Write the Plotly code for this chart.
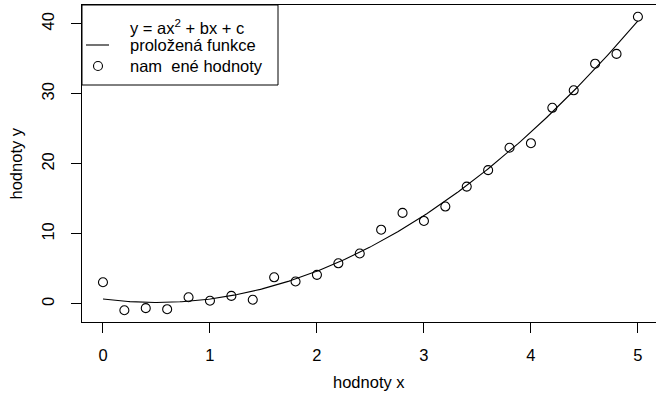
import numpy as np
import plotly.graph_objects as go

# data
x_vals = [0.0, 0.2, 0.4, 0.6, 0.8, 1.0, 1.2, 1.4, 1.6, 1.8, 2.0, 2.2, 2.4,
          2.6, 2.8, 3.0, 3.2, 3.4, 3.6, 3.8, 4.0, 4.2, 4.4, 4.6, 4.8, 5.0]
y_vals = [3.1, -0.9, -0.6, -0.75, 0.95, 0.45, 1.15, 0.6, 3.8, 3.2, 4.15, 5.8, 7.2,
          10.6, 13.0, 11.85, 13.9, 16.75, 19.1, 22.3, 22.95, 28.0, 30.5, 34.3, 35.7, 41.0]
x_ticks = [0, 1, 2, 3, 4, 5]
y_ticks = [0, 10, 20, 30, 40]
legend_labels = ["y = ax<sup>2</sup> + bx + c", "proložená funkce", "nam\u00a0\u00a0ené hodnoty"]
x_title = "hodnoty x"
y_title = "hodnoty y"

FONT = "Liberation Sans, Arial, Helvetica, sans-serif"
FS = 16.5

coef = np.polyfit(x_vals, y_vals, 2)
xc = np.linspace(min(x_vals), max(x_vals), 300)
yc = np.polyval(coef, xc)

fig = go.Figure()
fig.add_trace(go.Scatter(x=xc, y=yc, mode="lines",
                         line=dict(color="black", width=1.1), showlegend=False,
                         hoverinfo="skip"))
fig.add_trace(go.Scatter(x=x_vals, y=y_vals, mode="markers",
                         marker=dict(symbol="circle-open", size=9,
                                     color="black", line=dict(width=1.1, color="black")),
                         showlegend=False))

L, R, T, B = 82, 0, 5, 84
W, H = 656, 406
pw = W - L - R
ph = H - T - B

def px(xp):
    return (xp - L) / pw

def py(yp):
    return (H - B - yp) / ph

fig.update_layout(
    width=W, height=H,
    margin=dict(l=L, r=R, t=T, b=B, pad=0),
    paper_bgcolor="white", plot_bgcolor="white",
    font=dict(family=FONT, size=FS, color="black"),
    showlegend=False,
)
fig.update_xaxes(range=[-0.196, 5.169], tickvals=x_ticks, ticks="outside", ticklen=10,
                 tickcolor="black", tickwidth=1, showline=True, linecolor="black",
                 linewidth=1, mirror=True, showgrid=False, zeroline=False,
                 tickfont=dict(family=FONT, size=FS), ticklabelstandoff=8)
fig.update_yaxes(range=[-2.58, 42.68], tickvals=y_ticks, ticks="outside", ticklen=10,
                 tickcolor="black", tickwidth=1, showline=True, linecolor="black",
                 linewidth=1, mirror=False, showgrid=False, zeroline=False,
                 tickangle=-90, tickfont=dict(family=FONT, size=FS), ticklabelstandoff=10)

# axis titles
fig.add_annotation(text=x_title, xref="paper", yref="paper", x=0.5, y=py(382),
                   xanchor="center", yanchor="middle", showarrow=False,
                   font=dict(family=FONT, size=FS))
fig.add_annotation(text=y_title, xref="paper", yref="paper", x=px(15), y=py(163.5),
                   xanchor="center", yanchor="middle", showarrow=False, textangle=-90,
                   font=dict(family=FONT, size=FS))

# legend box
fig.add_shape(type="rect", xref="paper", yref="paper", x0=px(82), x1=px(278),
              y0=py(85), y1=py(5), line=dict(color="black", width=1),
              fillcolor="white", layer="above")
fig.add_shape(type="line", xref="paper", yref="paper", x0=px(86), x1=px(109),
              y0=py(45), y1=py(45), line=dict(color="black", width=1.1), layer="above")
fig.add_shape(type="circle", xref="paper", yref="paper", xsizemode="pixel",
              ysizemode="pixel", xanchor=px(98), yanchor=py(66), x0=-4.5, x1=4.5,
              y0=-4.5, y1=4.5, line=dict(color="black", width=1.1), layer="above")
for lbl, yy in zip(legend_labels, [27, 45, 66]):
    fig.add_annotation(text=lbl, xref="paper", yref="paper", x=px(128), y=py(yy),
                       xanchor="left", yanchor="middle", showarrow=False,
                       font=dict(family=FONT, size=FS))

fig.write_html("out.html", config={"displayModeBar": False},
               post_script="document.body.style.margin='0';document.body.style.overflow='hidden';")
